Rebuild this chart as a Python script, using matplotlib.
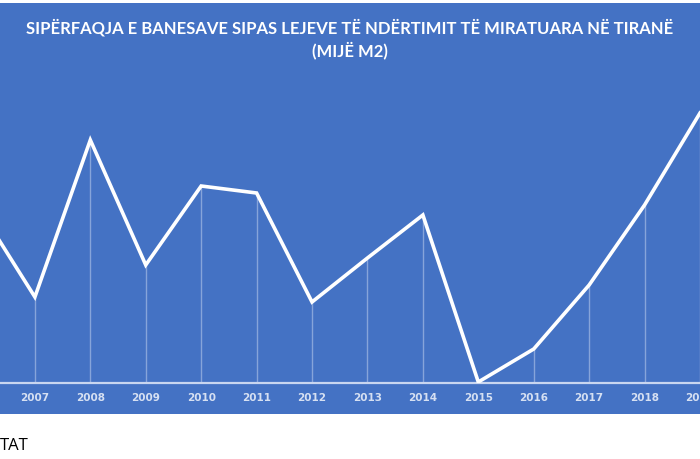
import matplotlib
matplotlib.use("Agg")
import matplotlib.pyplot as plt
from matplotlib.patches import Rectangle

# data (thousand m2; 2006 and 2019 are partly cropped)
years = [2006, 2007, 2008, 2009, 2010, 2011, 2012, 2013, 2014, 2015, 2016, 2017, 2018, 2019]
area = [174, 86, 243, 118, 197, 190, 81, 125, 168, 1, 34, 98, 178, 270]
tick_years = years[1:]
tick_labels = [str(y) for y in tick_years]

title = "SIPËRFAQJA E BANESAVE SIPAS LEJEVE TË NDËRTIMIT TË MIRATUARA NË TIRANË\n(MIJË M2)"
source = "TAT"

bg = "#4472c4"
W, H = 700, 460

fig = plt.figure(figsize=(W / 100, H / 100), dpi=100)
fig.patch.set_facecolor("white")

# blue panel
fig.patches.append(Rectangle((0, 1 - 415 / H), 1, (415 - 4) / H,
                             transform=fig.transFigure, facecolor=bg, edgecolor="none", zorder=-1))

# axes: baseline at y=384px, data area 280px high; year spacing ~55.6px, 2007 at x=35px
x0 = 2007 - 35 / 55.6
x1 = x0 + W / 55.6
ax = fig.add_axes([0, (H - 384) / H, 1, 280 / H])
ax.set_xlim(x0, x1)
ax.set_ylim(0, 280)
ax.patch.set_visible(False)
for sp in ax.spines.values():
    sp.set_visible(False)

ax.vlines(years, 0, area, color="#c9d6f0", linewidth=1.0, alpha=0.5, zorder=1)
ax.axhline(0, color="#c9d6f0", linewidth=1.6, zorder=2, clip_on=False)
ax.plot(years, area, color="white", linewidth=2.6, solid_joinstyle="miter", zorder=3)

ax.set_yticks([])
ax.set_xticks(tick_years)
ax.set_xticklabels(tick_labels, fontsize=7.5, fontweight="bold", color="#d6e0f2", family="DejaVu Sans")
ax.tick_params(axis="x", length=0, pad=6.5)

fig.text(0.5, 1 - 39 / H, title, ha="center", va="center", color="white",
         fontsize=12, fontweight="bold", family="Lato", linespacing=1.3)

fig.text(0, 1 - 446 / H, source, ha="left", va="center", color="black",
         fontsize=12, family="Open Sans")

fig.savefig("out.png", dpi=100, facecolor=fig.get_facecolor())
